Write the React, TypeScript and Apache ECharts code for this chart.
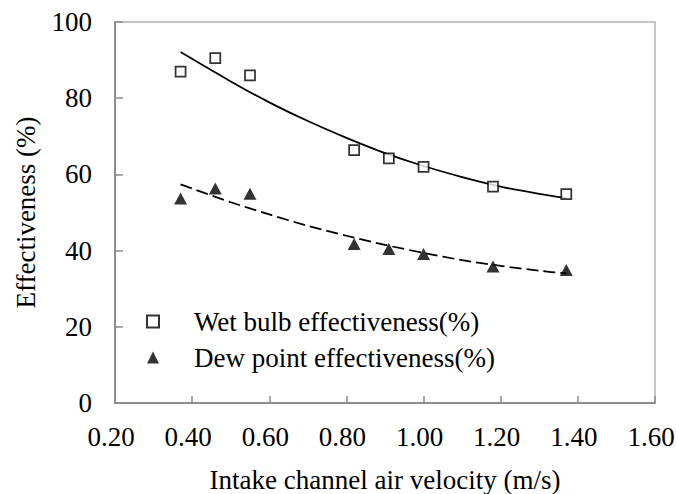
import React, { useEffect, useRef } from "react";
import * as echarts from "echarts";

const velocity = [0.37, 0.46, 0.55, 0.82, 0.91, 1.0, 1.18, 1.37];
const wetBulb = [87, 90.5, 86, 66.4, 64.2, 62, 56.8, 54.8];
const dewPoint = [53.7, 56.3, 54.9, 41.7, 40.4, 39.1, 35.8, 34.9];

const trendX = [0.37, 0.5, 0.6, 0.7, 0.8, 0.9, 1.0, 1.1, 1.2, 1.3, 1.37];
const wetTrend = [92.1, 84.4, 78.9, 74.0, 69.6, 65.6, 62.2, 59.3, 56.8, 54.9, 53.8];
const dewTrend = [57.4, 52.7, 49.5, 46.5, 43.9, 41.5, 39.4, 37.5, 36.0, 34.7, 34.0];

const wetName = "Wet bulb effectiveness(%)";
const dewName = "Dew point effectiveness(%)";
const xTitle = "Intake channel air velocity (m/s)";
const yTitle = "Effectiveness (%)";

const FONT = "Liberation Serif";
const FS = 27;

export default function App() {
  const ref = useRef<HTMLDivElement>(null);
  useEffect(() => {
    if (!ref.current) return;
    const chart = echarts.init(ref.current, null, { renderer: "svg" });
    const pair = (xs: number[], ys: number[]) => xs.map((x, i) => [x, ys[i]]);
    chart.setOption({
      animation: false,
      backgroundColor: "#ffffff",
      textStyle: { fontFamily: FONT },
      grid: {
        left: 115,
        right: 21,
        top: 22,
        bottom: 91,
        containLabel: false,
        outerBoundsMode: "none",
        show: true,
        borderColor: "#b4b4b4",
        borderWidth: 1.5,
      },
      legend: {
        left: 141,
        top: 301,
        orient: "vertical",
        itemWidth: 12,
        itemHeight: 12,
        itemGap: 5,
        data: [wetName, dewName],
        textStyle: {
          fontFamily: FONT,
          fontSize: FS,
          color: "#000",
          lineHeight: 31,
          padding: [0, 0, 0, 30],
        },
      },
      xAxis: {
        type: "value",
        min: 0.2,
        max: 1.6,
        interval: 0.2,
        name: xTitle,
        nameLocation: "middle",
        nameGap: 63,
        nameTextStyle: { fontFamily: FONT, fontSize: FS, color: "#000" },
        axisLine: { show: true, lineStyle: { color: "#8c8c8c", width: 2 } },
        axisTick: { show: true, inside: true, length: 7, lineStyle: { color: "#8c8c8c", width: 1.5 } },
        splitLine: { show: false },
        axisLabel: {
          fontFamily: FONT,
          fontSize: FS,
          color: "#000",
          margin: 20,
          padding: [0, 8, 0, 0],
          formatter: (v: number) => v.toFixed(2),
        },
      },
      yAxis: {
        type: "value",
        min: 0,
        max: 100,
        interval: 20,
        name: yTitle,
        nameLocation: "middle",
        nameGap: 76,
        nameTextStyle: { fontFamily: FONT, fontSize: FS, color: "#000" },
        axisLine: { show: true, lineStyle: { color: "#8c8c8c", width: 2 } },
        axisTick: { show: true, inside: true, length: 8, lineStyle: { color: "#8c8c8c", width: 1.5 } },
        splitLine: { show: false },
        axisLabel: { fontFamily: FONT, fontSize: FS, color: "#000", margin: 23 },
      },
      series: [
        {
          name: "wetTrend",
          type: "line",
          data: pair(trendX, wetTrend),
          smooth: 0.3,
          showSymbol: false,
          symbol: "none",
          lineStyle: { color: "#000", width: 1.75 },
          z: 2,
          silent: true,
        },
        {
          name: "dewTrend",
          type: "line",
          data: pair(trendX, dewTrend),
          smooth: 0.3,
          showSymbol: false,
          symbol: "none",
          lineStyle: { color: "#000", width: 1.75, type: [12, 5] },
          z: 2,
          silent: true,
        },
        {
          name: wetName,
          type: "scatter",
          data: pair(velocity, wetBulb),
          symbol: "rect",
          symbolSize: 10,
          itemStyle: { color: "#ffffff", borderColor: "#000", borderWidth: 1.75 },
          z: 3,
        },
        {
          name: dewName,
          type: "scatter",
          data: pair(velocity, dewPoint),
          symbol: "triangle",
          symbolSize: [13, 12],
          itemStyle: { color: "#000" },
          z: 3,
        },
      ],
    });
    return () => chart.dispose();
  }, []);
  return <div ref={ref} style={{ width: 676, height: 494, position: "absolute", left: 0, top: 0 }} />;
}
